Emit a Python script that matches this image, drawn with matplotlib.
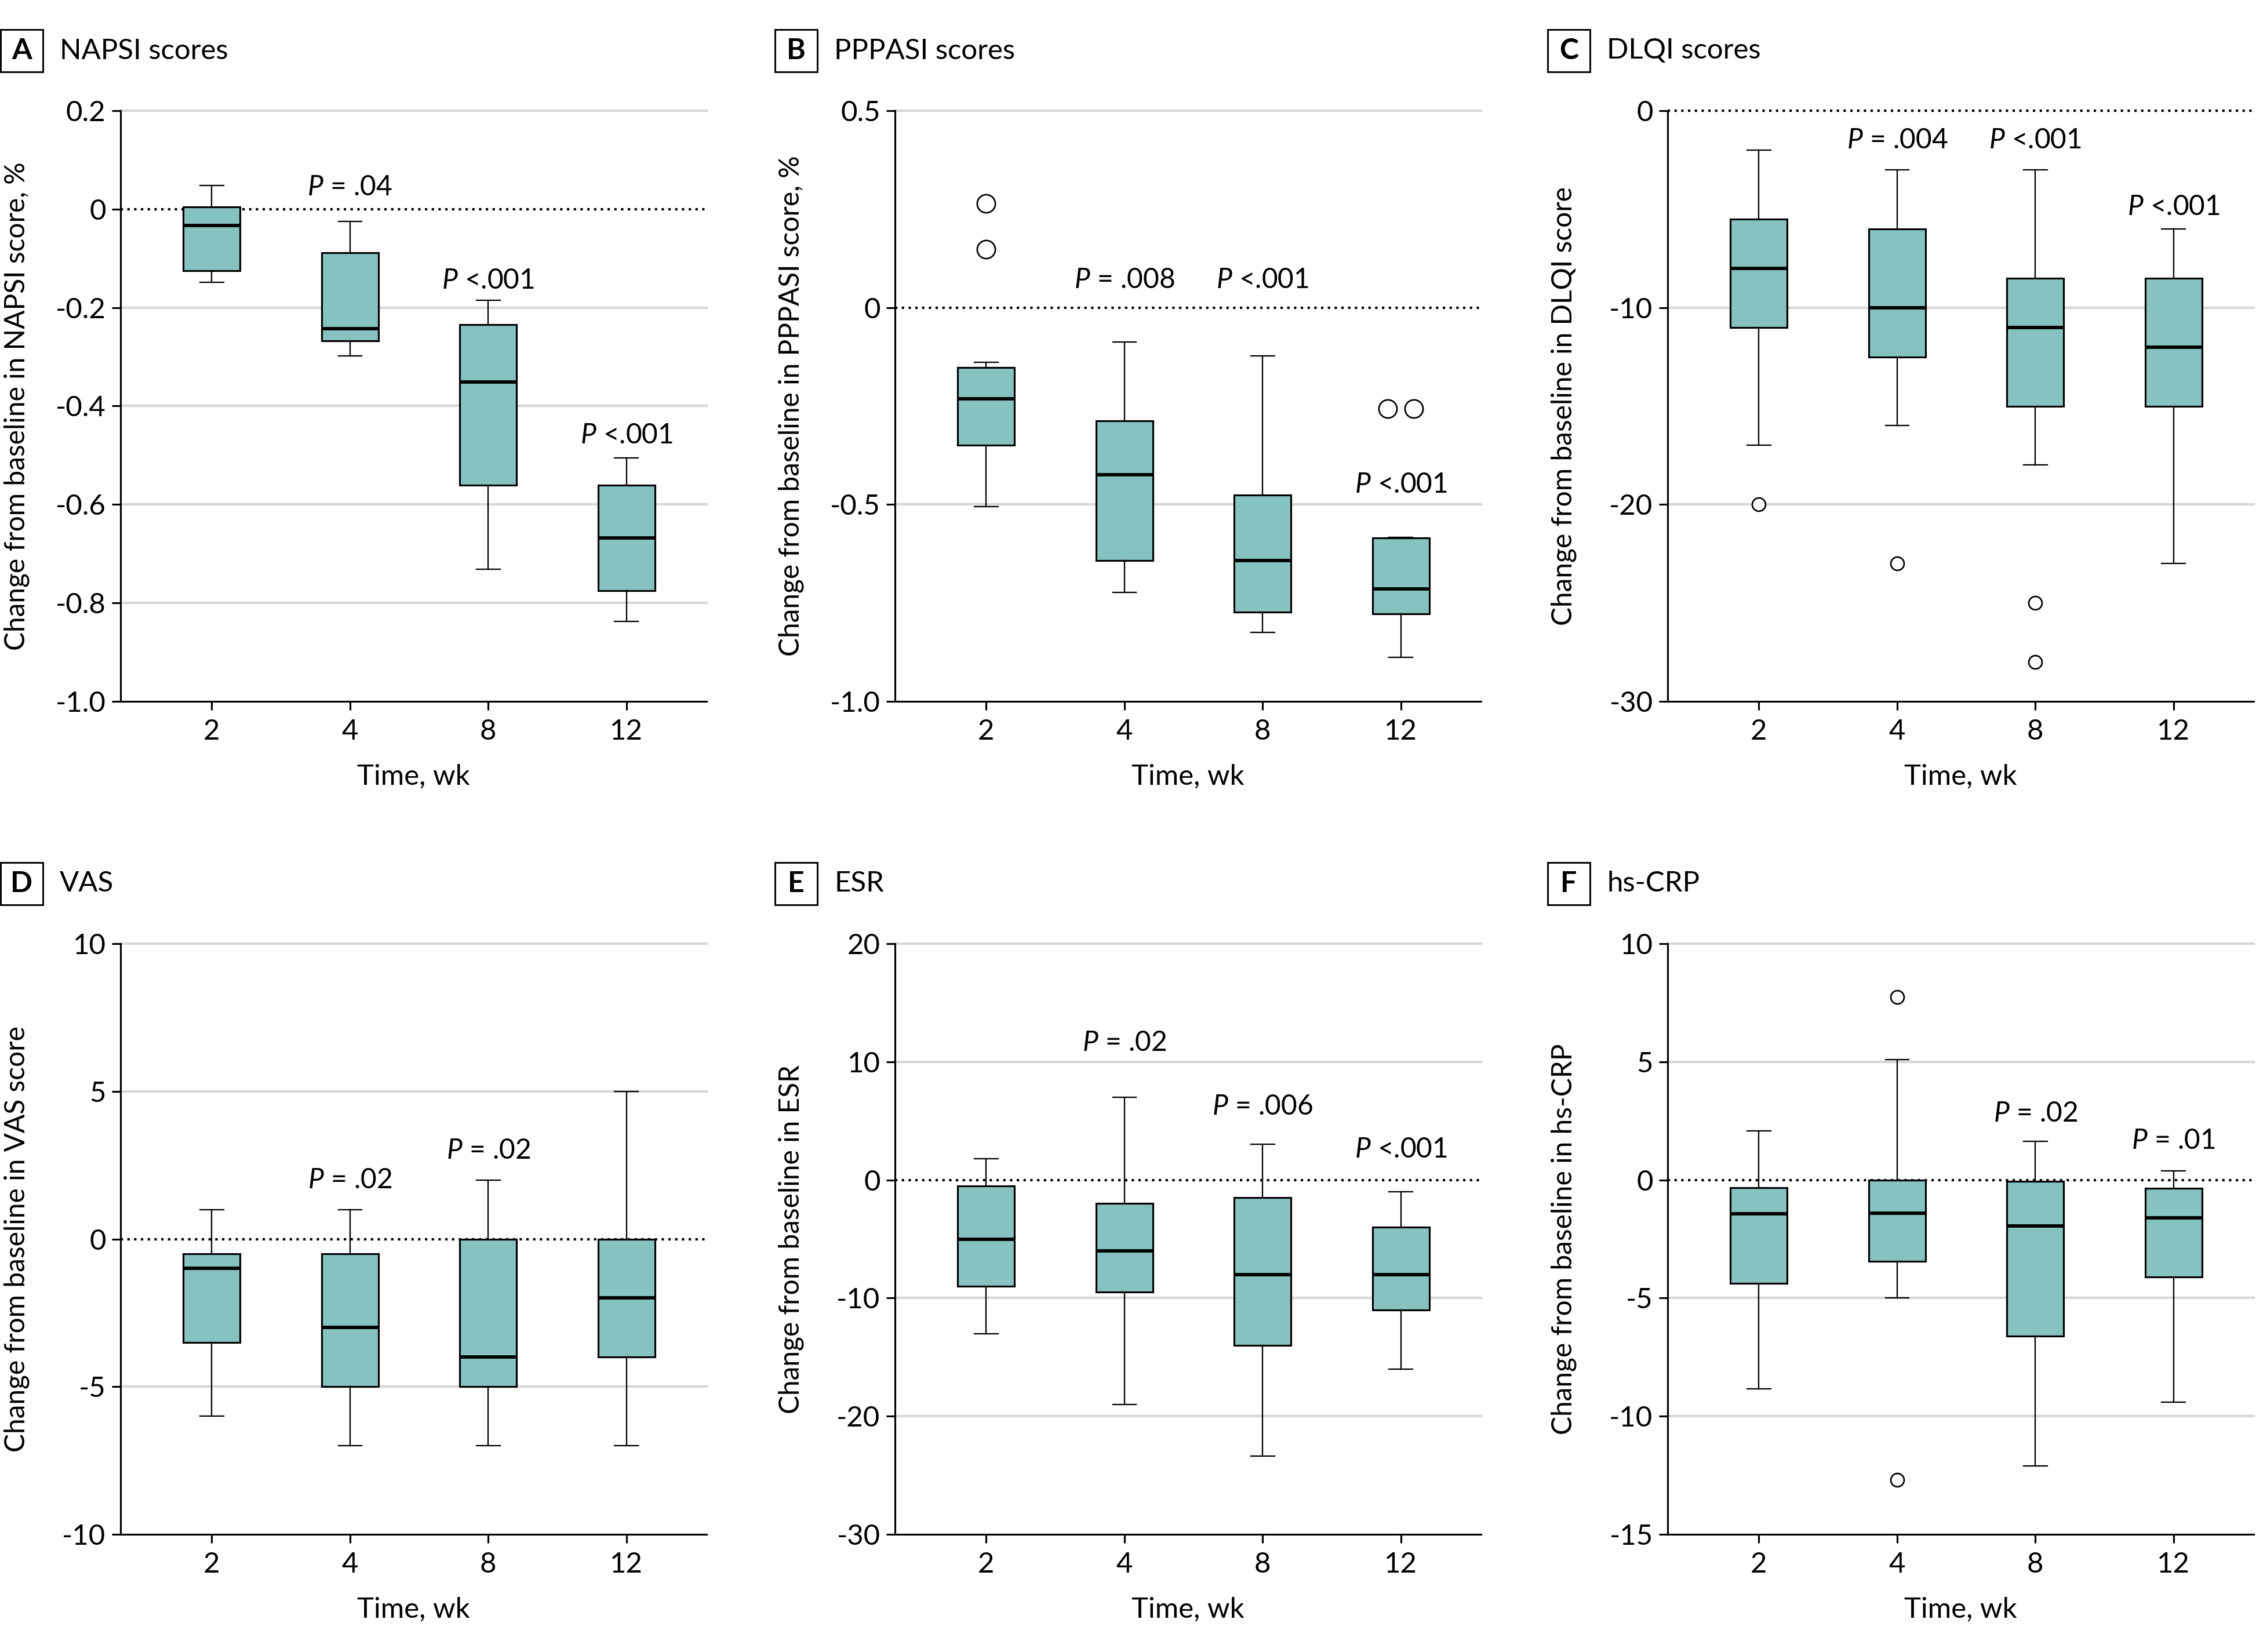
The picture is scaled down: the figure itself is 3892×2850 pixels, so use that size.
import matplotlib
matplotlib.use('Agg')
import matplotlib.pyplot as plt
from matplotlib.patches import Rectangle

plt.rcParams['font.family'] = 'Lato'
plt.rcParams['font.size'] = 11.5
plt.rcParams['axes.unicode_minus'] = False
plt.rcParams['mathtext.fontset'] = 'custom'
plt.rcParams['mathtext.it'] = 'Lato:italic'
plt.rcParams['mathtext.rm'] = 'Lato'

weeks = ['2', '4', '8', '12']

# A - NAPSI
napsi_lo = [-0.148, -0.298, -0.731, -0.838]
napsi_q1 = [-0.125, -0.268, -0.561, -0.775]
napsi_med = [-0.033, -0.243, -0.351, -0.668]
napsi_q3 = [0.004, -0.088, -0.234, -0.561]
napsi_hi = [0.048, -0.025, -0.185, -0.505]
napsi_fliers = [[], [], [], []]
napsi_p = [None, 'P = .04', 'P <.001', 'P <.001']
napsi_ticks = [0.2, 0, -0.2, -0.4, -0.6, -0.8, -1.0]
napsi_ticklabels = ['0.2', '0', '-0.2', '-0.4', '-0.6', '-0.8', '-1.0']

# B - PPPASI
pppasi_lo = [-0.505, -0.723, -0.825, -0.888]
pppasi_q1 = [-0.350, -0.642, -0.773, -0.777]
pppasi_med = [-0.232, -0.424, -0.643, -0.714]
pppasi_q3 = [-0.152, -0.287, -0.476, -0.585]
pppasi_hi = [-0.139, -0.087, -0.123, -0.584]
pppasi_fliers = [[0.265, 0.148], [], [], [-0.257, -0.257]]
pppasi_p = [None, 'P = .008', 'P <.001', 'P <.001']
pppasi_ticks = [0.5, 0, -0.5, -1.0]
pppasi_ticklabels = ['0.5', '0', '-0.5', '-1.0']

# C - DLQI
dlqi_lo = [-17, -16, -18, -23]
dlqi_q1 = [-11, -12.5, -15, -15]
dlqi_med = [-8, -10, -11, -12]
dlqi_q3 = [-5.5, -6, -8.5, -8.5]
dlqi_hi = [-2, -3, -3, -6]
dlqi_fliers = [[-20], [-23], [-25, -28], []]
dlqi_p = [None, 'P = .004', 'P <.001', 'P <.001']
dlqi_ticks = [0, -10, -20, -30]
dlqi_ticklabels = ['0', '-10', '-20', '-30']

# D - VAS
vas_lo = [-6, -7, -7, -7]
vas_q1 = [-3.5, -5, -5, -4]
vas_med = [-1, -3, -4, -2]
vas_q3 = [-0.5, -0.5, 0, 0]
vas_hi = [1, 1, 2, 5]
vas_fliers = [[], [], [], []]
vas_p = [None, 'P = .02', 'P = .02', None]
vas_ticks = [10, 5, 0, -5, -10]
vas_ticklabels = ['10', '5', '0', '-5', '-10']

# E - ESR
esr_lo = [-13, -19, -23.4, -16]
esr_q1 = [-9, -9.5, -14, -11]
esr_med = [-5, -6, -8, -8]
esr_q3 = [-0.5, -2, -1.5, -4]
esr_hi = [1.8, 7, 3, -1]
esr_fliers = [[], [], [], []]
esr_p = [None, 'P = .02', 'P = .006', 'P <.001']
esr_ticks = [20, 10, 0, -10, -20, -30]
esr_ticklabels = ['20', '10', '0', '-10', '-20', '-30']

# F - hs-CRP
crp_lo = [-8.84, -5.0, -12.1, -9.4]
crp_q1 = [-4.38, -3.44, -6.6, -4.1]
crp_med = [-1.44, -1.4, -1.95, -1.6]
crp_q3 = [-0.33, 0, -0.05, -0.35]
crp_hi = [2.08, 5.1, 1.64, 0.39]
crp_fliers = [[], [7.75, -12.7], [], []]
crp_p = [None, None, 'P = .02', 'P = .01']
crp_ticks = [10, 5, 0, -5, -10, -15]
crp_ticklabels = ['10', '5', '0', '-5', '-10', '-15']

panels = [
    dict(letter='A', title='NAPSI scores', ylabel='Change from baseline in NAPSI score, %',
         lo=napsi_lo, q1=napsi_q1, med=napsi_med, q3=napsi_q3, hi=napsi_hi,
         fliers=napsi_fliers, p=napsi_p, ticks=napsi_ticks, ticklabels=napsi_ticklabels),
    dict(letter='B', title='PPPASI scores', ylabel='Change from baseline in PPPASI score, %',
         lo=pppasi_lo, q1=pppasi_q1, med=pppasi_med, q3=pppasi_q3, hi=pppasi_hi,
         fliers=pppasi_fliers, p=pppasi_p, ticks=pppasi_ticks, ticklabels=pppasi_ticklabels),
    dict(letter='C', title='DLQI scores', ylabel='Change from baseline in DLQI score',
         lo=dlqi_lo, q1=dlqi_q1, med=dlqi_med, q3=dlqi_q3, hi=dlqi_hi,
         fliers=dlqi_fliers, p=dlqi_p, ticks=dlqi_ticks, ticklabels=dlqi_ticklabels),
    dict(letter='D', title='VAS', ylabel='Change from baseline in VAS score',
         lo=vas_lo, q1=vas_q1, med=vas_med, q3=vas_q3, hi=vas_hi,
         fliers=vas_fliers, p=vas_p, ticks=vas_ticks, ticklabels=vas_ticklabels),
    dict(letter='E', title='ESR', ylabel='Change from baseline in ESR',
         lo=esr_lo, q1=esr_q1, med=esr_med, q3=esr_q3, hi=esr_hi,
         fliers=esr_fliers, p=esr_p, ticks=esr_ticks, ticklabels=esr_ticklabels),
    dict(letter='F', title='hs-CRP', ylabel='Change from baseline in hs-CRP',
         lo=crp_lo, q1=crp_q1, med=crp_med, q3=crp_q3, hi=crp_hi,
         fliers=crp_fliers, p=crp_p, ticks=crp_ticks, ticklabels=crp_ticklabels),
]

# vertical position (data units) of the P value labels
p_label_y = [
    [None, 0.045, -0.145, -0.46],
    [None, 0.07, 0.07, -0.45],
    [None, -1.5, -1.5, -4.9],
    [None, 2.0, 3.0, None],
    [None, 11.6, 6.2, 2.6],
    [None, None, 2.8, 1.66],
]

# layout in pixels of the final image
W, H = 3892, 2850
col_left = [208, 1544, 2877]
row_top = [191, 1628]
ax_w, ax_h = 1011, 1019
teal = '#86C2C0'
grid_gray = '#D8D8D8'

fig = plt.figure(figsize=(W / 300, H / 300), dpi=300)

for i, pan in enumerate(panels):
    r, c = divmod(i, 3)
    left, top = col_left[c], row_top[r]
    ax = fig.add_axes([left / W, 1 - (top + ax_h) / H, ax_w / W, ax_h / H])

    pos = list(range(len(weeks)))
    stats = []
    for k in pos:
        stats.append(dict(whislo=pan['lo'][k], q1=pan['q1'][k], med=pan['med'][k],
                          q3=pan['q3'][k], whishi=pan['hi'][k], fliers=[]))
    ax.bxp(stats, positions=pos, widths=0.41, capwidths=0.17, patch_artist=True,
           showfliers=False,
           boxprops=dict(facecolor=teal, edgecolor='black', linewidth=0.75),
           medianprops=dict(color='black', linewidth=1.4),
           whiskerprops=dict(color='black', linewidth=0.55),
           capprops=dict(color='black', linewidth=0.55), zorder=3)

    # outliers, identical values placed side by side
    ms = 7.5 if pan['letter'] == 'B' else 5.5
    for k in pos:
        vals = pan['fliers'][k]
        for v in set(vals):
            n = vals.count(v)
            offs = [0.0] if n == 1 else [-0.095, 0.095]
            for o in offs:
                ax.plot(k + o, v, 'o', mfc='white', mec='black', ms=ms, mew=0.65, zorder=4)

    # p values
    for k in pos:
        if pan['p'][k]:
            txt = pan['p'][k].replace('P', r'$\mathit{P}$', 1)
            ax.text(k, p_label_y[i][k], txt, ha='center', va='center', fontsize=11.5)

    ticks = pan['ticks']
    ax.set_ylim(min(ticks), max(ticks))
    ax.set_xlim(-0.66, 3.58)
    ax.set_yticks(ticks)
    ax.set_yticklabels(pan['ticklabels'])
    ax.set_xticks(pos)
    ax.set_xticklabels(weeks)

    for t in ticks:
        if t == 0:
            ax.axhline(0, color='black', linestyle=(0, (1, 1.8)), linewidth=1.0, zorder=2, clip_on=False)
        elif t != min(ticks):
            ax.axhline(t, color=grid_gray, linewidth=1.05, zorder=1, clip_on=False)

    for s in ['top', 'right']:
        ax.spines[s].set_visible(False)
    for s in ['left', 'bottom']:
        ax.spines[s].set_linewidth(0.75)
    ax.tick_params(axis='both', direction='out', length=3.6, width=0.75, labelsize=11.8)
    ax.tick_params(axis='y', pad=2.5)
    ax.tick_params(axis='x', pad=3.5)

    ax.set_ylabel(pan['ylabel'], fontsize=11.5)
    ax.yaxis.set_label_coords(-0.155, 0.5)
    ax.set_xlabel('Time, wk', fontsize=11.8)
    ax.xaxis.set_label_coords(0.5, -0.105)

    # panel letter box and title
    bl = left - 207
    bt = top - 140
    bs = 73
    fig.patches.append(Rectangle((bl / W, 1 - (bt + bs) / H), bs / W, bs / H,
                                 transform=fig.transFigure, fill=False,
                                 edgecolor='black', linewidth=0.7))
    fig.text((bl + bs / 2) / W, 1 - (bt + bs / 2) / H, pan['letter'],
             ha='center', va='center', fontsize=12, fontweight='bold')
    fig.text((bl + 102) / W, 1 - (bt + bs / 2) / H, pan['title'],
             ha='left', va='center', fontsize=11.8)

fig.savefig('out.png', dpi=300, facecolor='white')
